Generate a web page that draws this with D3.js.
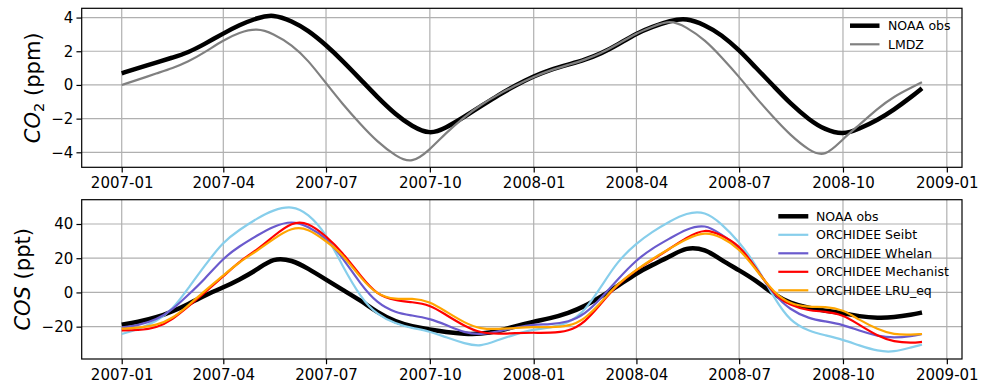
<!DOCTYPE html>
<html>
<head>
<meta charset="utf-8">
<script src="https://cdn.jsdelivr.net/npm/d3@7"></script>
<style>
  body { margin: 0; background: #fff; }
  svg { display: block; font-family: "DejaVu Sans", sans-serif; }
</style>
</head>
<body>
<svg id="chart" width="982" height="390"></svg>
<script>
// Sampling dates (1st and 15th of each month, series end on 2008-12-10)
const dates = [
  "2007-01-01","2007-01-15","2007-02-01","2007-02-15","2007-03-01","2007-03-15",
  "2007-04-01","2007-04-15","2007-05-01","2007-05-15","2007-06-01","2007-06-15",
  "2007-07-01","2007-07-15","2007-08-01","2007-08-15","2007-09-01","2007-09-15",
  "2007-10-01","2007-10-15","2007-11-01","2007-11-15","2007-12-01","2007-12-15",
  "2008-01-01","2008-01-15","2008-02-01","2008-02-15","2008-03-01","2008-03-15",
  "2008-04-01","2008-04-15","2008-05-01","2008-05-15","2008-06-01","2008-06-15",
  "2008-07-01","2008-07-15","2008-08-01","2008-08-15","2008-09-01","2008-09-15",
  "2008-10-01","2008-10-15","2008-11-01","2008-11-15","2008-12-01","2008-12-10"
];

// CO2 seasonal anomaly (ppm)
const co2Noaa = [
  0.69, 0.99, 1.34, 1.62, 1.93, 2.41, 3.06, 3.55, 3.98, 4.20, 3.79, 3.25,
  2.37, 1.48, 0.30, -0.69, -1.78, -2.45, -2.95, -2.56, -1.87, -1.28, -0.59, -0.06,
  0.52, 0.89, 1.22, 1.48, 1.87, 2.37, 3.06, 3.45, 3.81, 3.98, 3.55, 3.00,
  2.07, 1.08, -0.10, -1.08, -2.07, -2.66, -2.96, -2.62, -2.07, -1.48, -0.69, -0.20
];
const co2Lmdz = [
  0.00, 0.30, 0.69, 0.99, 1.38, 1.91, 2.66, 3.12, 3.38, 3.06, 2.37, 1.48,
  0.10, -1.08, -2.37, -3.35, -4.24, -4.68, -3.85, -2.86, -1.87, -1.18, -0.55, -0.06,
  0.49, 0.85, 1.20, 1.48, 1.90, 2.40, 3.08, 3.45, 3.86, 3.45, 2.66, 1.68,
  0.49, -0.69, -1.97, -2.96, -3.90, -4.30, -3.20, -2.40, -1.38, -0.69, -0.14, 0.16
];

// COS seasonal anomaly (ppt)
const cosNoaa = [
  -18.8, -17.3, -14.6, -11.1, -6.8, -1.9, 2.9, 7.4, 13.2, 20.3, 19.0, 14.0,
  7.5, 1.8, -4.8, -11.5, -17.3, -19.8, -21.7, -23.1, -24.3, -24.3, -22.7, -19.8,
  -17.0, -15.3, -12.0, -8.2, -2.3, 3.5, 11.3, 16.1, 21.0, 26.6, 25.4, 19.0,
  13.0, 7.4, -1.4, -6.2, -9.1, -10.7, -12.0, -14.0, -15.0, -14.6, -13.0, -11.7
];
const cosSeibt = [
  -24.3, -21.7, -16.9, -10.1, 2.5, 15.2, 29.7, 36.5, 43.3, 48.2, 50.8, 46.2,
  34.5, 16.1, -3.3, -13.0, -18.4, -20.8, -22.7, -26.2, -29.9, -31.8, -27.6, -24.7,
  -21.5, -20.8, -17.9, -11.1, 3.5, 18.1, 28.7, 35.5, 41.7, 46.5, 47.5, 40.4,
  29.7, 17.1, -3.3, -16.9, -22.7, -25.0, -27.6, -30.9, -34.4, -34.9, -32.0, -30.5
];
const cosWhelan = [
  -20.4, -19.4, -15.9, -10.1, -1.4, 7.4, 20.1, 26.9, 33.3, 38.6, 42.0, 38.6,
  32.0, 21.0, 4.5, -6.2, -12.0, -13.4, -15.3, -18.8, -23.7, -24.7, -22.7, -20.8,
  -18.6, -18.8, -17.3, -13.0, -3.3, 7.4, 19.0, 25.8, 31.7, 37.1, 40.0, 34.0,
  27.0, 15.1, -1.4, -10.1, -15.3, -16.9, -18.8, -22.3, -25.6, -26.6, -25.6, -24.3
];
const cosMechanist = [
  -22.2, -22.2, -20.8, -15.9, -8.2, -0.4, 9.3, 18.1, 24.9, 32.7, 41.4, 41.0,
  33.0, 23.9, 9.3, -1.4, -4.9, -5.6, -7.2, -13.0, -19.8, -23.7, -24.3, -23.7,
  -23.5, -23.7, -22.7, -17.9, -6.2, 4.5, 13.2, 19.0, 25.8, 32.0, 37.5, 33.5,
  27.8, 15.1, -1.4, -7.6, -10.7, -11.1, -13.0, -18.8, -25.6, -28.9, -29.5, -28.9
];
const cosLruEq = [
  -21.2, -20.8, -19.2, -15.3, -7.6, 0.6, 9.9, 17.7, 24.3, 31.1, 38.2, 37.5,
  30.0, 22.9, 8.3, -1.4, -4.3, -3.3, -5.2, -11.1, -17.9, -21.4, -21.4, -20.8,
  -20.1, -20.4, -19.8, -15.9, -5.6, 4.9, 13.2, 19.6, 25.8, 31.3, 35.6, 32.5,
  25.8, 14.2, -0.4, -6.8, -8.7, -8.2, -10.1, -15.9, -21.7, -24.7, -24.7, -24.3
];

// Axis ticks
const xTickDates = ["2007-01-01","2007-04-01","2007-07-01","2007-10-01","2008-01-01",
                    "2008-04-01","2008-07-01","2008-10-01","2009-01-01"];
const co2Ticks = [-4, -2, 0, 2, 4];
const cosTicks = [-20, 0, 20, 40];

const parse = d3.utcParse("%Y-%m-%d");
const times = dates.map(parse);
const tickTimes = xTickDates.map(parse);

const svg = d3.select("#chart");
const L = 81.7, R = 962;
const panels = [
  {
    top: 8.3, bottom: 167.3, yDomain: [-4.89, 4.55], ticks: co2Ticks,
    labelX: 39.5, label: "co2",
    series: [
      { name: "NOAA obs", values: co2Noaa, color: "#000000", width: 4.5 },
      { name: "LMDZ", values: co2Lmdz, color: "#808080", width: 2.2 }
    ],
    legend: { x0: 850, x1: 879.5, tx: 888, y0: 25.7, dy: 18.6 }
  },
  {
    top: 199.7, bottom: 359, yDomain: [-38.9, 54.2], ticks: cosTicks,
    labelX: 29.5, label: "cos",
    series: [
      { name: "NOAA obs", values: cosNoaa, color: "#000000", width: 4.5 },
      { name: "ORCHIDEE Seibt", values: cosSeibt, color: "#87ceeb", width: 2.2 },
      { name: "ORCHIDEE Whelan", values: cosWhelan, color: "#6a5acd", width: 2.2 },
      { name: "ORCHIDEE Mechanist", values: cosMechanist, color: "#ff0000", width: 2.2 },
      { name: "ORCHIDEE LRU_eq", values: cosLruEq, color: "#ffa500", width: 2.2 }
    ],
    legend: { x0: 778.3, x1: 808.3, tx: 816, y0: 216.3, dy: 18.5 }
  }
];

// Shared time axis with 5% padding around the data span
const t0 = times[0], t1 = times[times.length - 1];
const pad = (t1 - t0) * 0.05;
const x = d3.scaleUtc()
  .domain([new Date(+t0 - pad), new Date(+t1 + pad)])
  .range([L, R]);

const fmt = d3.utcFormat("%Y-%m");
const minusFmt = d => (d < 0 ? "\u2212" + Math.abs(d) : String(d));

panels.forEach(p => {
  const y = d3.scaleLinear().domain(p.yDomain).range([p.bottom, p.top]);
  const g = svg.append("g");

  // grid
  const grid = g.append("g").attr("stroke", "#b0b0b0").attr("stroke-width", 1.2);
  grid.selectAll("line.v").data(tickTimes).join("line")
    .attr("x1", d => x(d)).attr("x2", d => x(d))
    .attr("y1", p.top).attr("y2", p.bottom);
  grid.selectAll("line.h").data(p.ticks).join("line")
    .attr("x1", L).attr("x2", R)
    .attr("y1", d => y(d)).attr("y2", d => y(d));

  // series (smoothed)
  const line = d3.line()
    .x((d, i) => x(times[i]))
    .y(d => y(d))
    .curve(d3.curveBasis);
  p.series.forEach(s => {
    g.append("path")
      .attr("d", line(s.values))
      .attr("fill", "none")
      .attr("stroke", s.color)
      .attr("stroke-width", s.width)
      .attr("stroke-linejoin", "round")
      .attr("stroke-linecap", "butt");
  });

  // axes
  const xAxis = d3.axisBottom(x).tickValues(tickTimes).tickFormat(fmt)
    .tickSize(5.25).tickPadding(4.9);
  const gx = g.append("g").attr("transform", `translate(0,${p.bottom})`).call(xAxis);
  const yAxis = d3.axisLeft(y).tickValues(p.ticks).tickFormat(minusFmt)
    .tickSize(5.25).tickPadding(3.2);
  const gy = g.append("g").attr("transform", `translate(${L},0)`).call(yAxis);
  [gx, gy].forEach(a => {
    a.select(".domain").remove();
    a.selectAll(".tick line").attr("stroke", "#000").attr("stroke-width", 1.2);
    a.selectAll(".tick text").attr("fill", "#000")
      .style("font-family", '"DejaVu Sans", sans-serif').style("font-size", "15px");
  });

  // frame
  g.append("rect")
    .attr("x", L).attr("y", p.top)
    .attr("width", R - L).attr("height", p.bottom - p.top)
    .attr("fill", "none").attr("stroke", "#000").attr("stroke-width", 1.2);

  // y label
  const cy = (p.top + p.bottom) / 2;
  const lab = g.append("text")
    .attr("transform", `translate(${p.labelX},${cy}) rotate(-90)`)
    .attr("text-anchor", "middle")
    .attr("font-size", 21)
    .attr("fill", "#000");
  if (p.label === "co2") {
    lab.append("tspan").attr("font-style", "italic").text("CO");
    lab.append("tspan").attr("font-size", 14.7).attr("dy", 4).text("2");
    lab.append("tspan").attr("dy", -4).text(" (ppm)");
  } else {
    lab.append("tspan").attr("font-style", "italic").text("COS");
    lab.append("tspan").text(" (ppt)");
  }

  // legend
  const lg = g.append("g");
  p.series.forEach((s, i) => {
    const ly = p.legend.y0 + i * p.legend.dy;
    lg.append("line")
      .attr("x1", p.legend.x0).attr("x2", p.legend.x1)
      .attr("y1", ly).attr("y2", ly)
      .attr("stroke", s.color).attr("stroke-width", s.width);
    lg.append("text")
      .attr("x", p.legend.tx).attr("y", ly + 4.5)
      .attr("font-size", 12.5).attr("fill", "#000")
      .text(s.name);
  });
});
</script>
</body>
</html>
